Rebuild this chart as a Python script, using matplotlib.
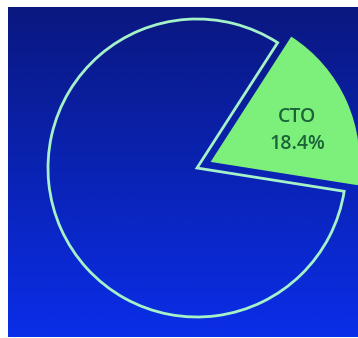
import matplotlib.pyplot as plt
import numpy as np

labels = ["CTO", "Other"]
shares = [18.4, 81.6]

W, H = 358, 338
R = 149

fig = plt.figure(figsize=(W / 100, H / 100), dpi=100, facecolor="white")
ax = fig.add_axes([0, 0, 1, 1])

# vertical blue backdrop, navy at the top fading to bright blue
top = np.array([10, 24, 128]) / 255
bottom = np.array([10, 46, 232]) / 255
t = np.linspace(0, 1, 256)[:, None]
grad = top + (bottom - top) * t
grad = np.repeat(grad[:, None, :], 2, axis=1)
ax.imshow(grad, extent=[8, W, 1, H - 7], origin="upper", aspect="auto",
          interpolation="bilinear", zorder=0)

# explode is in data units here, so scale it by the radius
wedges, _, autotexts = ax.pie(
    shares,
    explode=[0.1 * R, 0],
    startangle=-9,
    counterclock=True,
    radius=R,
    center=(197, H - 168),
    autopct=lambda p: f"{labels[0]}\n{p:.1f}%" if p < 50 else "",
    pctdistance=0.6,
    frame=True,
    textprops=dict(color="#1b6438", fontsize=14, fontweight="semibold",
                   family=["Open Sans", "DejaVu Sans"], linespacing=1.5),
)
ax.set_xlim(0, W)
ax.set_ylim(0, H)
ax.set_aspect("auto")
ax.axis("off")

# nudge the label a little lower inside the wedge
x0, y0 = autotexts[0].get_position()
autotexts[0].set_position((x0 + 5, y0 - 5))

wedges[0].set_facecolor("#7df07b")
wedges[0].set_edgecolor("none")
wedges[1].set_facecolor("none")
wedges[1].set_edgecolor("#a6f2c8")
wedges[1].set_linewidth(2.0)

fig.savefig("out.png", dpi=100, facecolor="white")
